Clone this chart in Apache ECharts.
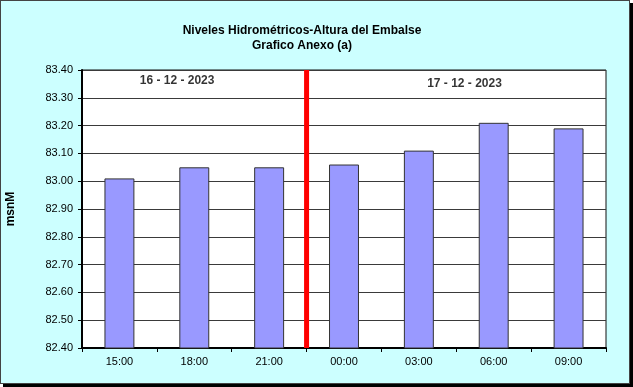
<!DOCTYPE html>
<html>
<head>
<meta charset="utf-8">
<script src="https://cdn.jsdelivr.net/npm/echarts@6/dist/echarts.min.js"></script>
<style>
html,body{margin:0;padding:0;background:#fff;}
#bg{position:absolute;left:0;top:0;width:628px;height:382px;border:1px solid #444;background:#CCFFFF;box-shadow:3px 3px 0 #000;}
#chart{position:absolute;left:0;top:0;width:633px;height:387px;}
</style>
</head>
<body>
<div id="bg"></div>
<div id="chart"></div>
<script>
const categories = ['15:00', '18:00', '21:00', '00:00', '03:00', '06:00', '09:00'];
const levels = [83.01, 83.05, 83.05, 83.06, 83.11, 83.21, 83.19];
const yMin = 82.40, yMax = 83.40, yStep = 0.10;
const dayDivider = [[3, 82.40], [3, 83.40]];
const dateLabels = ['16 - 12 - 2023', '17 - 12 - 2023'];
const dateLabelPos = [[1.27, 83.36], [5.11, 83.35]];

const chart = echarts.init(document.getElementById('chart'), null, {renderer: 'canvas'});
const font = 'Arial, "Liberation Sans", sans-serif';
chart.setOption({
  backgroundColor: 'transparent',
  animation: false,
  textStyle: {fontFamily: font},
  title: {
    text: 'Niveles Hidrométricos-Altura del Embalse\nGrafico Anexo (a)',
    left: 297, top: 18, textAlign: 'center',
    textStyle: {fontSize: 12, fontWeight: 'bold', color: '#000', lineHeight: 15, fontFamily: font}
  },
  grid: {left: 82, top: 70, width: 524, height: 278, containLabel: false, outerBoundsMode: 'none', show: true, backgroundColor: '#fff', borderColor: '#111', borderWidth: 1},
  xAxis: [{
    type: 'category', data: categories, boundaryGap: true,
    axisLine: {lineStyle: {color: '#000', width: 2}},
    axisTick: {show: true, length: 4, lineStyle: {color: '#000'}},
    axisLabel: {color: '#000', fontSize: 11, margin: 8, fontFamily: font}
  }, {
    type: 'value', min: 0, max: 7, show: false
  }],
  yAxis: {
    type: 'value', min: yMin, max: yMax, interval: yStep,
    name: 'msnM', nameLocation: 'middle', nameGap: 65, nameRotate: 90,
    nameTextStyle: {fontSize: 12, fontWeight: 'bold', color: '#000', fontFamily: font},
    axisLine: {show: true, lineStyle: {color: '#000', width: 2}},
    axisTick: {show: true, length: 4, lineStyle: {color: '#000'}},
    axisLabel: {color: '#000', fontSize: 11, margin: 9, formatter: v => v.toFixed(2), fontFamily: font},
    splitLine: {show: true, lineStyle: {color: '#3a3a3a', width: 1}}
  },
  series: [{
    type: 'bar', data: levels, barWidth: '40%',
    itemStyle: {color: '#9999FF', borderColor: '#333', borderWidth: 1}
  }, {
    type: 'line', xAxisIndex: 1, data: dayDivider, symbol: 'none',
    lineStyle: {color: '#FF0000', width: 5}, z: 5
  }, {
    type: 'scatter', xAxisIndex: 1, symbolSize: 0,
    data: dateLabelPos.map((p, i) => ({value: p, name: dateLabels[i]})),
    label: {show: true, position: 'inside', formatter: p => p.name, color: '#000', fontSize: 12, fontWeight: 'bold', fontFamily: font}
  }]
});
</script>
</body>
</html>
